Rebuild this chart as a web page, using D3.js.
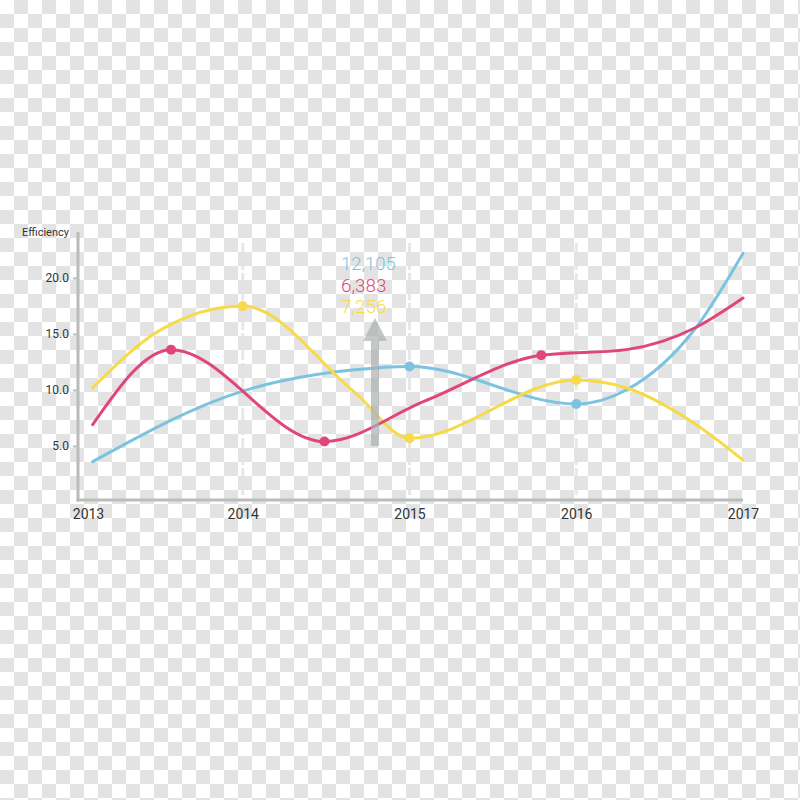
<!DOCTYPE html>
<html><head><meta charset="utf-8">
<script src="https://cdn.jsdelivr.net/npm/d3@7"></script>
<style>body{margin:0;background:#fff}svg{display:block}</style>
</head><body>
<svg id="c" width="800" height="800"></svg>
<script>
const years = [2013, 2014, 2015, 2016, 2017];
const yTicks = [5, 10, 15, 20];
const blueX = [2013.10, 2014.00, 2014.67, 2015.00, 2016.00, 2016.30, 2016.72, 2017.00];
const blueY = [3.6, 9.9, 11.8, 12.1, 8.75, 10.0, 15.6, 22.2];
const blueMarks = [3, 4];
const pinkX = [2013.10, 2013.57, 2014.49, 2015.09, 2015.79, 2016.30, 2016.72, 2017.00];
const pinkY = [6.9, 13.6, 5.4, 9.0, 13.1, 13.6, 15.6, 18.2];
const pinkMarks = [1, 2, 4];
const yellowX = [2013.10, 2013.50, 2014.00, 2014.67, 2015.00, 2016.00, 2016.30, 2016.68, 2017.00];
const yellowY = [10.2, 15.3, 17.5, 9.8, 5.7, 10.9, 10.2, 7.3, 3.75];
const yellowMarks = [2, 4, 5];
const annotations = ["12,105", "6,383", "7,256"];

const colors = {blue: "#7cc3e0", pink: "#e0467c", yellow: "#f6da4a"};
const svg = d3.select("#c");

// checkerboard background
const cell = 14;
const cells = [];
for (let i = 0; i * cell < 800; i++) for (let j = 0; j * cell < 800; j++) if ((i + j) % 2 === 1) cells.push([i, j]);
svg.append("rect").attr("width", 800).attr("height", 800).attr("fill", "#ffffff");
svg.append("g").selectAll("rect").data(cells).join("rect")
  .attr("x", d => d[0] * cell).attr("y", d => d[1] * cell)
  .attr("width", cell).attr("height", cell).attr("fill", "#e3e3e3");

const x = d3.scaleLinear().domain([2013, 2017]).range([76, 743]);
const y = d3.scaleLinear().domain([0, 24.1]).range([502, 232]);

// vertical dashed gridlines
svg.append("g").selectAll("line").data([2014, 2015, 2016]).join("line")
  .attr("x1", d => x(d)).attr("x2", d => x(d)).attr("y1", 243).attr("y2", 498)
  .attr("stroke", "#e2e2e2").attr("stroke-width", 3).attr("stroke-dasharray", "12,3").attr("opacity", 0.8);

// axes
const yAxis = svg.append("g").attr("transform", "translate(78,0)")
  .call(d3.axisLeft(y).tickValues(yTicks).tickFormat(d3.format(".1f")).tickSize(5).tickPadding(4));
yAxis.select(".domain").remove();
yAxis.selectAll(".tick line").attr("stroke", "#b9bdba").attr("stroke-width", 2);
yAxis.selectAll(".tick text").attr("fill", "#333").style("font", "12px Roboto, sans-serif");
svg.append("line").attr("x1", 78).attr("x2", 78).attr("y1", 232).attr("y2", 501.5).attr("stroke", "#b9bdba").attr("stroke-width", 3);
svg.append("line").attr("x1", 76.5).attr("x2", 743).attr("y1", 500).attr("y2", 500).attr("stroke", "#b9bdba").attr("stroke-width", 3);

const xAxis = svg.append("g").attr("transform", "translate(0,505)")
  .call(d3.axisBottom(x).tickValues(years).tickFormat(d3.format("d")).tickSize(0).tickPadding(4));
xAxis.select(".domain").remove();
xAxis.selectAll(".tick text").attr("fill", "#333").style("font", "14px Roboto, sans-serif")
  .attr("dx", d => d === 2013 ? 12 : 0);

svg.append("text").attr("x", 22).attr("y", 236).attr("fill", "#333")
  .style("font", "11px Roboto, sans-serif").text("Efficiency");

// lines
const line = d3.line().x(d => x(d[0])).y(d => y(d[1])).curve(d3.curveMonotoneX);
const series = [
  {xs: blueX, ys: blueY, marks: blueMarks, c: colors.blue},
  {xs: yellowX, ys: yellowY, marks: yellowMarks, c: colors.yellow},
  {xs: pinkX, ys: pinkY, marks: pinkMarks, c: colors.pink}
];
series.forEach(s => {
  const pts = s.xs.map((v, i) => [v, s.ys[i]]);
  svg.append("path").datum(pts).attr("d", line).attr("fill", "none")
    .attr("stroke", s.c).attr("stroke-width", 3).attr("stroke-linecap", "round");
  svg.append("g").selectAll("circle").data(s.marks.map(i => pts[i])).join("circle")
    .attr("cx", d => x(d[0])).attr("cy", d => y(d[1])).attr("r", 5).attr("fill", s.c);
});

// arrow
const ax = 375;
svg.append("path")
  .attr("d", `M${ax - 4},446 L${ax - 4},341 L${ax - 12},341 L${ax},318 L${ax + 12},341 L${ax + 4},341 L${ax + 4},446 Z`)
  .attr("fill", "#a9afad").attr("opacity", 0.7);

// annotations
const annColors = [colors.blue, colors.pink, colors.yellow];
svg.append("g").selectAll("text").data(annotations).join("text")
  .attr("x", 341).attr("y", (d, i) => 270 + i * 21.5)
  .attr("fill", (d, i) => annColors[i])
  .style("font", "300 19px Roboto, sans-serif")
  .attr("textLength", (d) => d.length * 9.1).attr("lengthAdjust", "spacingAndGlyphs")
  .text(d => d);
</script>
</body></html>
